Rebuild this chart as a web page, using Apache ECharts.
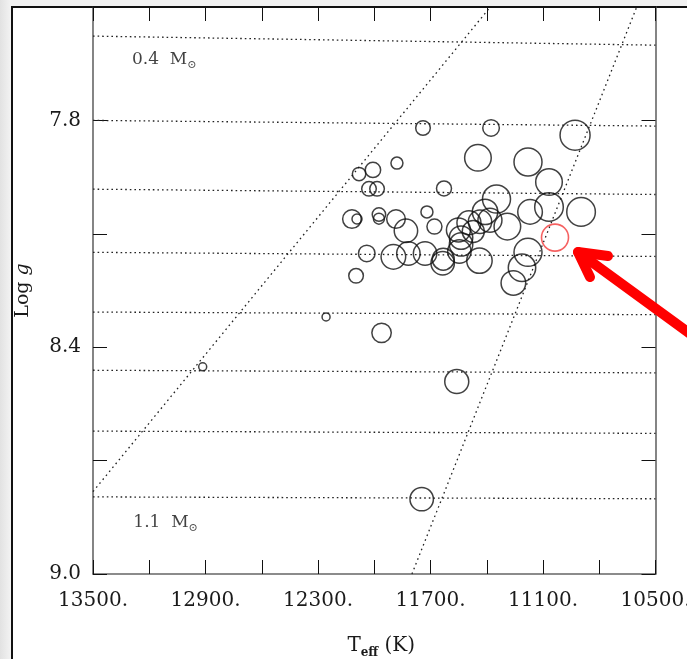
<!DOCTYPE html>
<html>
<head>
<meta charset="utf-8">
<script src="https://cdn.jsdelivr.net/npm/echarts@6/dist/echarts.min.js"></script>
<style>
  html, body { margin: 0; padding: 0; }
  body { width: 687px; height: 659px; background: #f1f1f1; position: relative; overflow: hidden; }
  #leftband { position: absolute; left: 0; top: 0; width: 11px; height: 659px;
              background: linear-gradient(to right, #e2e2e2, #f3f3f3); }
  #frame { position: absolute; left: 11px; top: 6px; width: 676px; height: 653px; background: #fff;
           border-left: 2px solid #111; border-top: 2px solid #111; box-sizing: border-box; }
  #chart { position: absolute; left: 0; top: 0; width: 687px; height: 659px; }
</style>
</head>
<body>
<div id="leftband"></div>
<div id="frame"></div>
<div id="chart"></div>
<script>
// ---- data ----
const teff = [11740, 11377, 10929, 11447, 11180, 11068, 11879, 12007, 12081, 12028,
              11985, 11628, 11348, 11068, 10897, 11169, 11409, 12119, 12092, 11975,
              11975, 11884, 11719, 11831, 11679, 11551, 11495, 11436, 11383, 11290,
              11537, 11537, 11472, 11180, 11212, 11258, 12040, 11898, 11818, 11729,
              11635, 11632, 11546, 11439, 12097, 12257, 12915, 11961, 11560, 11747];
const logg = [7.820, 7.820, 7.839, 7.899, 7.910, 7.963, 7.913, 7.931, 7.942, 7.981,
              7.981, 7.980, 8.008, 8.029, 8.042, 8.042, 8.042, 8.061, 8.061, 8.049,
              8.060, 8.061, 8.042, 8.092, 8.081, 8.090, 8.071, 8.068, 8.064, 8.081,
              8.110, 8.128, 8.094, 8.149, 8.190, 8.230, 8.152, 8.161, 8.152, 8.152,
              8.178, 8.167, 8.147, 8.171, 8.211, 8.320, 8.452, 8.362, 8.491, 8.802];
const amp  = [7.3, 8.3, 15, 13.3, 14, 13.3, 6, 7.7, 6.7, 7.3,
              7.3, 7.5, 14, 14.3, 14.3, 12.3, 12.7, 9.3, 5, 6.7,
              5.5, 9.3, 6, 11.7, 7.5, 12, 12, 11.7, 12, 13.3,
              11.7, 11.7, 11, 14, 13.7, 12.3, 8.3, 12.3, 11.7, 11.7,
              11.7, 11, 11.7, 12.7, 7.3, 4, 4, 9.7, 12, 11.7];
// highlighted star
const starTeff = [11036];
const starLogg = [8.110];
const starAmp  = [13.5];
// constant-mass lines (log g at the hot and cool ends)
const massNames   = ['0.4', '0.5', '0.6', '0.7', '0.8', '0.9', '1.0', '1.1'];
const massEndTeff = [13500, 10500];
const massLoggHot  = [7.577, 7.800, 7.982, 8.149, 8.307, 8.461, 8.622, 8.796];
const massLoggCool = [7.601, 7.815, 7.996, 8.160, 8.314, 8.468, 8.628, 8.801];
// instability strip edges
const blueEdge = [[13500, 8.782], [11381, 7.5]];
const redEdge  = [[11799, 9.0], [10600, 7.5]];
// annotated mass labels
const massLabelText = ['0.4', '1.1'];
const massLabelPos  = [[13292, 7.640], [13285, 8.865]];
// axis tick labels
const xTickLabels = [13500, 12900, 12300, 11700, 11100, 10500];
const yTickLabels = [7.8, 8.4, 9.0];

const FONT = 'DejaVu Serif';
const chart = echarts.init(document.getElementById('chart'), null, { renderer: 'canvas' });

const dotted = { type: [1.6, 3], color: '#222', width: 1.3 };
const series = [];
massNames.forEach((m, i) => {
  series.push({
    type: 'line', name: m + ' Msun', silent: true, symbol: 'none', animation: false,
    data: [[massEndTeff[0], massLoggHot[i]], [massEndTeff[1], massLoggCool[i]]],
    lineStyle: dotted, z: 1
  });
});
[blueEdge, redEdge].forEach((e, i) => {
  series.push({ type: 'line', name: i ? 'red edge' : 'blue edge', silent: true, symbol: 'none',
    animation: false, data: e, lineStyle: { type: [1.6, 3.5], color: '#222', width: 1.3 }, z: 1 });
});
series.push({
  type: 'scatter', name: 'stars', animation: false,
  data: teff.map((t, i) => [t, logg[i], amp[i]]),
  symbol: 'circle',
  symbolSize: v => v[2] * 2,
  itemStyle: { color: 'rgba(0,0,0,0)', borderColor: '#111', borderWidth: 1.5 },
  z: 3
});
series.push({
  type: 'scatter', name: 'target', animation: false,
  data: starTeff.map((t, i) => [t, starLogg[i], starAmp[i]]),
  symbol: 'circle',
  symbolSize: v => v[2] * 2,
  itemStyle: { color: 'rgba(0,0,0,0)', borderColor: '#f23a3a', borderWidth: 1.6 },
  z: 4
});
series.push({
  type: 'scatter', name: 'labels', silent: true, animation: false,
  data: massLabelPos.map((p, i) => ({ value: p, name: massLabelText[i] })),
  symbolSize: 0,
  label: {
    show: true, position: 'right', distance: 0,
    formatter: p => '{a|' + p.name + '  M}{o|⊙}',
    rich: {
      a: { fontFamily: FONT, fontSize: 17, color: '#111', lineHeight: 22 },
      o: { fontFamily: FONT, fontSize: 11, color: '#111', lineHeight: 12, verticalAlign: 'bottom' }
    }
  },
  z: 5
});

function isLabel(v, list) { return list.some(l => Math.abs(l - v) < 1e-6); }

const xBase = { type: 'value', min: 10500, max: 13500, interval: 300, inverse: true,
  splitLine: { show: false } };
const yBase = { type: 'value', min: 7.5, max: 9.0, interval: 0.3, inverse: true,
  splitLine: { show: false } };

chart.setOption({
  animation: false,
  grid: { left: 93, right: 31.5, top: 7, bottom: 85, containLabel: false, outerBoundsMode: 'none' },
  xAxis: [
    Object.assign({}, xBase, {
      position: 'bottom',
      axisLine: { show: true, lineStyle: { color: '#666', width: 1.6 } },
      axisTick: { show: true, inside: true, length: 14, lineStyle: { color: '#111', width: 1 } },
      axisLabel: { show: true, margin: 17, fontFamily: FONT, fontSize: 20, color: '#1a1a1a',
        showMinLabel: true, showMaxLabel: true, hideOverlap: false,
        formatter: v => isLabel(v, xTickLabels) ? String(v) + '.' : '' },
      name: '{a|T}{s|eff}{a| (K)}',
      nameLocation: 'middle', nameGap: 59,
      nameTextStyle: {
        padding: [0, 0, 0, 14],
        rich: {
          a: { fontFamily: FONT, fontSize: 20, color: '#1a1a1a', lineHeight: 26 },
          s: { fontFamily: FONT, fontSize: 12, fontWeight: 'bold', color: '#1a1a1a', lineHeight: 14, verticalAlign: 'bottom' }
        }
      }
    }),
    Object.assign({}, xBase, {
      position: 'top',
      axisLine: { show: true, lineStyle: { color: '#111', width: 2 } },
      axisTick: { show: true, inside: true, length: 14, lineStyle: { color: '#111', width: 1 } },
      axisLabel: { show: false }
    })
  ],
  yAxis: [
    Object.assign({}, yBase, {
      position: 'left',
      axisLine: { show: true, lineStyle: { color: '#666', width: 1.6 } },
      axisTick: { show: true, inside: true, length: 14, lineStyle: { color: '#111', width: 1 } },
      axisLabel: { show: true, margin: 12, fontFamily: FONT, fontSize: 20, color: '#1a1a1a',
        showMinLabel: true, showMaxLabel: true, hideOverlap: false,
        formatter: v => isLabel(v, yTickLabels) ? v.toFixed(1) : '' },
      name: '{a|Log }{i|g}',
      nameLocation: 'middle', nameGap: 60, nameRotate: 90,
      nameTextStyle: {
        rich: {
          a: { fontFamily: FONT, fontSize: 19, color: '#1a1a1a' },
          i: { fontFamily: FONT, fontSize: 19, color: '#1a1a1a', fontStyle: 'italic' }
        }
      }
    }),
    Object.assign({}, yBase, {
      position: 'right',
      axisLine: { show: true, lineStyle: { color: '#666', width: 1.6 } },
      axisTick: { show: true, inside: true, length: 14, lineStyle: { color: '#111', width: 1 } },
      axisLabel: { show: false }
    })
  ],
  series: series
});

// red arrow pointing at the highlighted star
const c = chart.convertToPixel({ xAxisIndex: 0, yAxisIndex: 0 }, [starTeff[0], starLogg[0]]);
const tip = [c[0] + 23, c[1] + 14.5];
const arrowStyle = { stroke: '#ff0000', lineWidth: 10, lineCap: 'round', lineJoin: 'round', fill: null };
chart.setOption({
  graphic: [
    { type: 'polyline', silent: true, z: 100,
      shape: { points: [[c[0] + 53, c[1] + 18.5], tip, [c[0] + 35, c[1] + 39.5]] }, style: arrowStyle },
    { type: 'line', silent: true, z: 100,
      shape: { x1: tip[0], y1: tip[1], x2: c[0] + 150, y2: c[1] + 107 }, style: arrowStyle }
  ]
});
</script>
</body>
</html>
